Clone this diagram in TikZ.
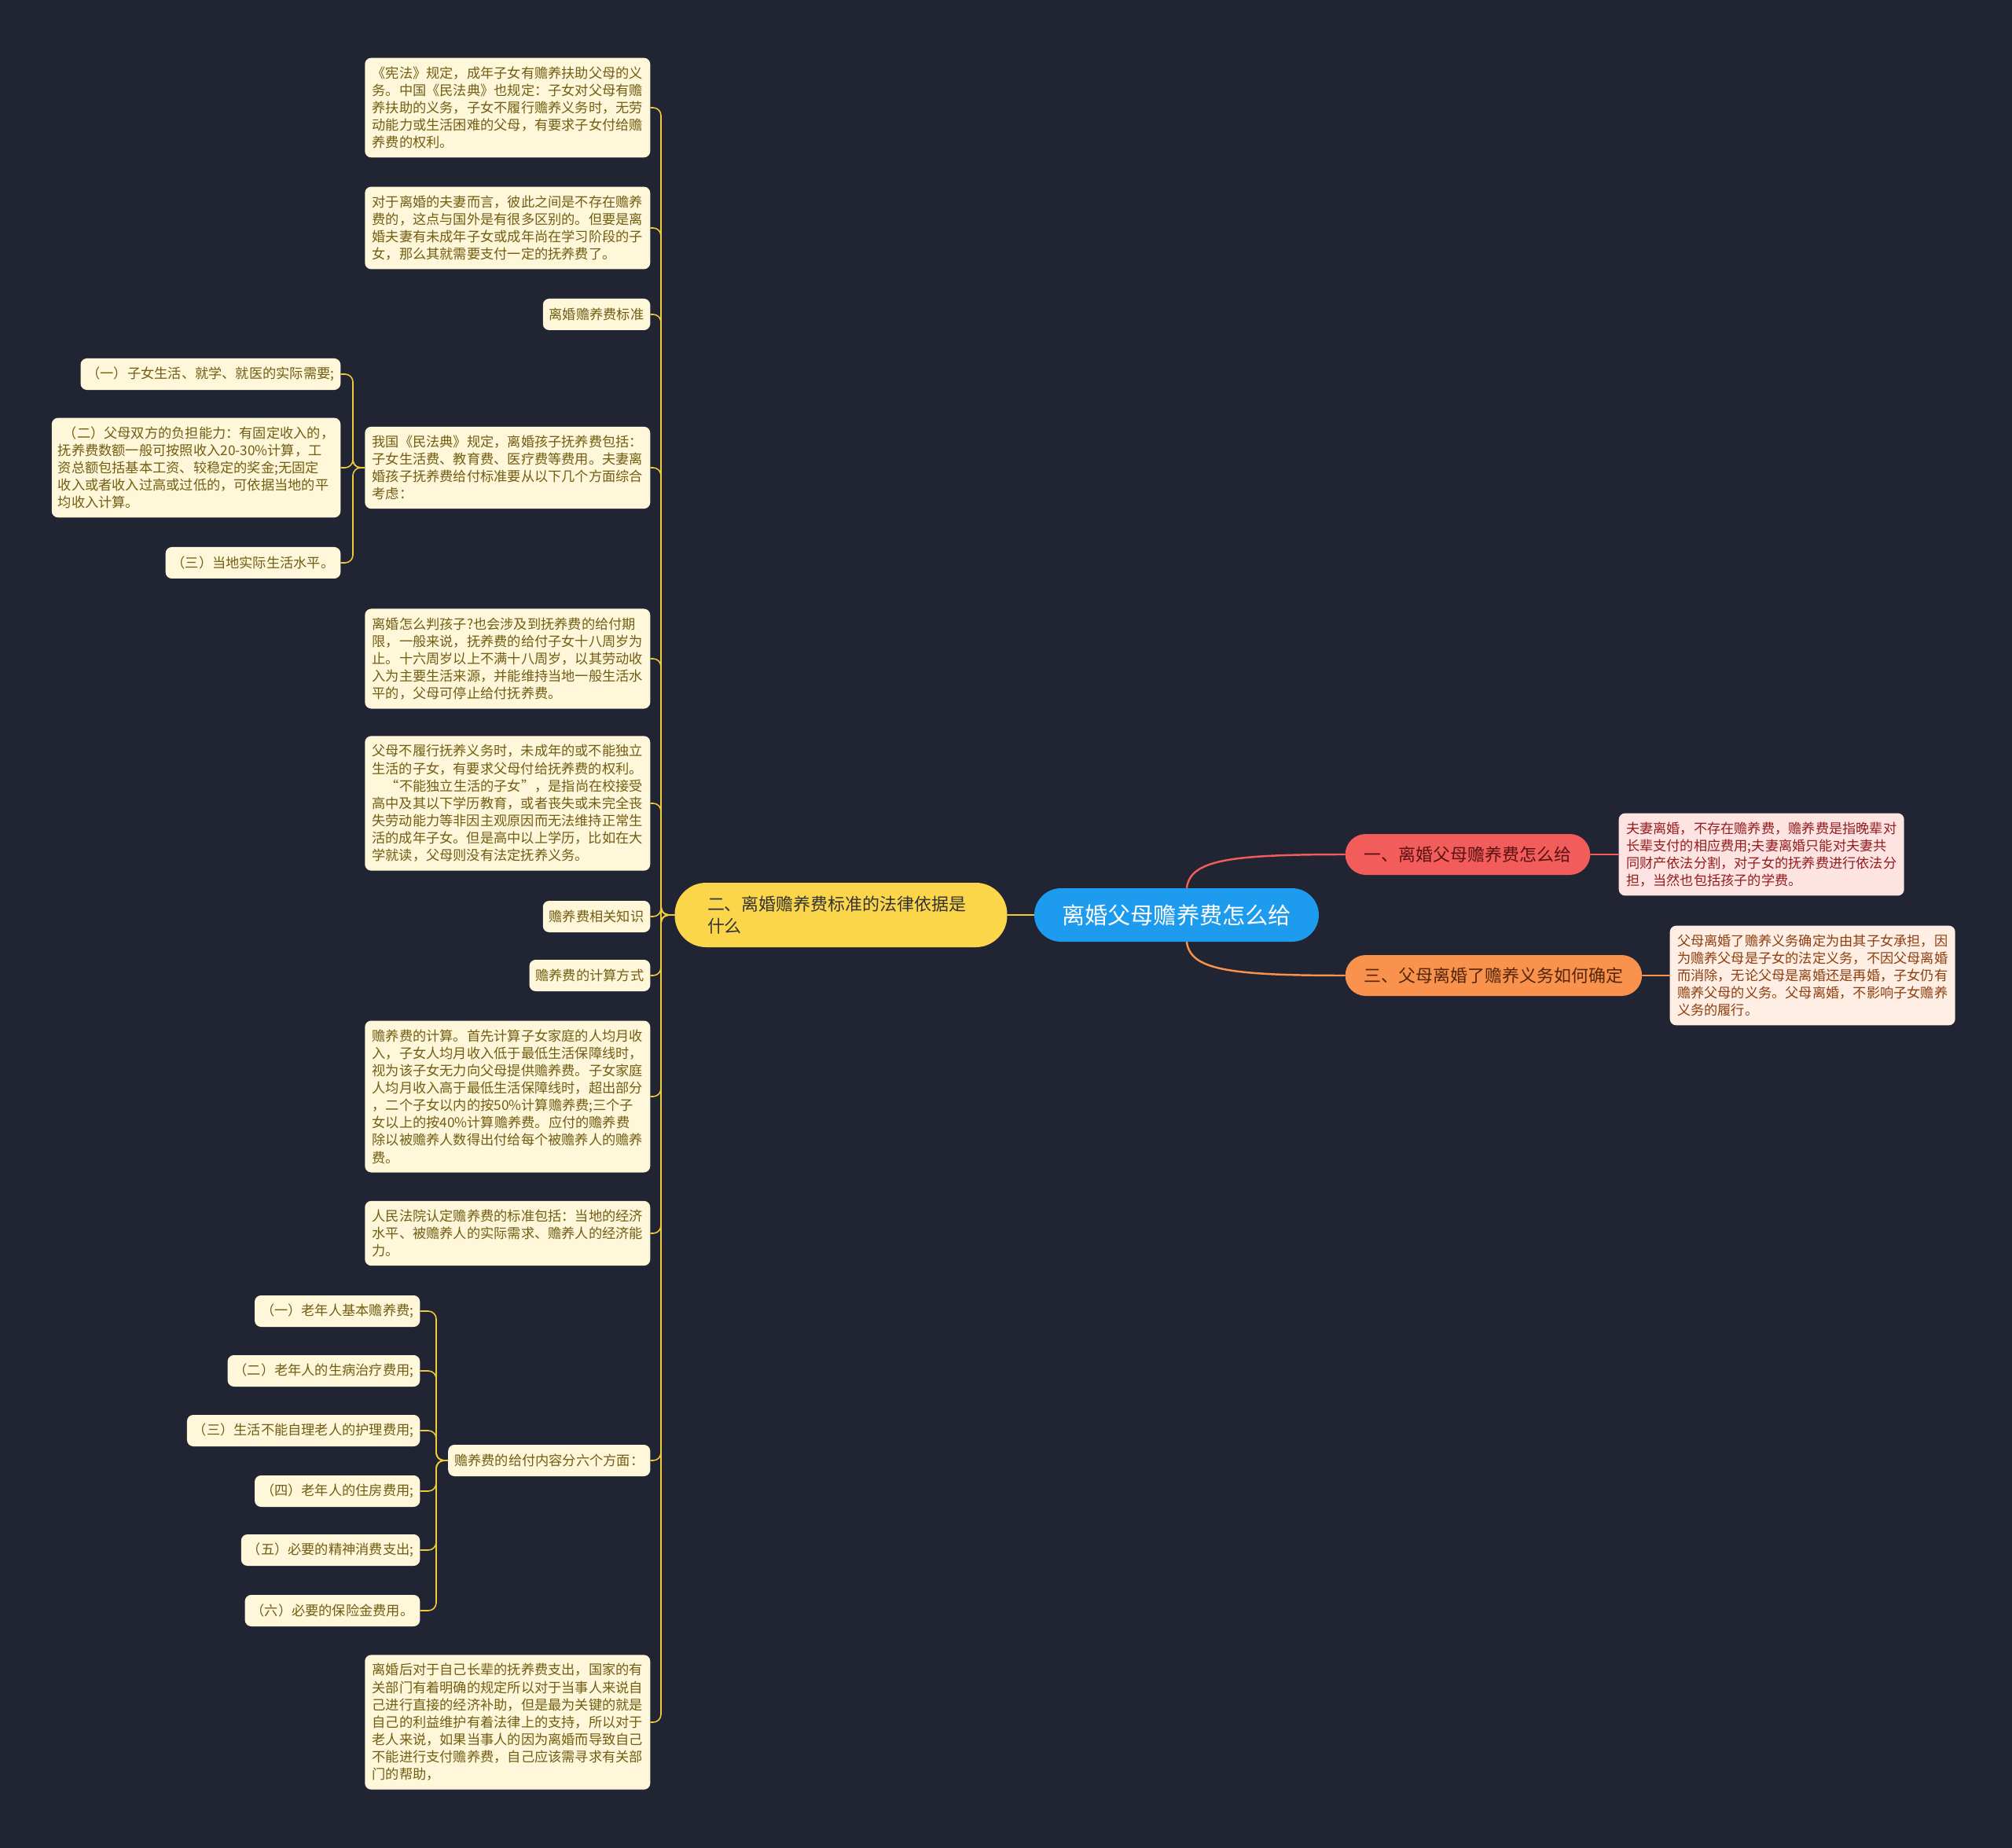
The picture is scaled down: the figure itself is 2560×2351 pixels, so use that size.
\documentclass[tikz,border=0pt]{standalone}
\usepackage{fontspec}
\setmainfont{Noto Sans CJK SC}
\usepackage{tikz}

\definecolor{bgcol}{HTML}{212533}
\definecolor{rootfill}{HTML}{1C9BEF}
\definecolor{redfill}{HTML}{F25D5C}
\definecolor{orangefill}{HTML}{F8924C}
\definecolor{yellowfill}{HTML}{FCD64A}
\definecolor{creamfill}{HTML}{FEF7DA}
\definecolor{creamtext}{HTML}{725D12}
\definecolor{pinkfill}{HTML}{FEE3E3}
\definecolor{pinktext}{HTML}{951D1D}
\definecolor{peachfill}{HTML}{FEEEE3}
\definecolor{peachtext}{HTML}{8E3F10}
\definecolor{yline}{HTML}{EFCB3A}

\begin{document}
\begin{tikzpicture}[
				x=0.1mm, y=-0.1mm,
				line cap=round,
				line join=round,
				leaf/.style={fill=creamfill, text=creamtext, rounded corners=0.8mm,
					inner xsep=0.8mm, inner ysep=1.1mm, align=left, minimum height=4mm,
					font=\fontsize{4.9pt}{6.3pt}\selectfont},
				note/.style={leaf, minimum width=36.3mm},
				topic/.style={fill=rootfill, text=white, rounded corners=3.4mm,
					minimum width=36.2mm, minimum height=6.8mm,
					font=\fontsize{8.3pt}{10pt}\selectfont},
				branch/.style={rounded corners=2.6mm, minimum height=5.2mm, inner xsep=2.4mm,
					font=\fontsize{6.25pt}{7.9pt}\selectfont},
				yconn/.style={draw=yline, line width=0.45pt, rounded corners=1mm}
				]
				% Background
				\fill[bgcol] (0,0) rectangle (2560,2351);
				
				% Central topic
				\node[topic] (root) at (1497,1164) {离婚父母赡养费怎么给};
				
				% Main branches
				\node[branch, fill=redfill, text=pinktext!60!black, anchor=west] (one) at (1711,1087) {一、离婚父母赡养费怎么给};
				\node[branch, fill=orangefill, text=peachtext!60!black, anchor=west] (three) at (1711,1241) {三、父母离婚了赡养义务如何确定};
				\node[branch, fill=yellowfill, text=black!80, rounded corners=4mm, minimum height=8.2mm,
					text width=34mm, inner xsep=4.15mm, align=left] (two) at (1070,1164) {二、离婚赡养费标准的法律依据是\\什么};
				
				% Right notes
				\node[note, fill=pinkfill, text=pinktext, anchor=west] (onenote) at (2059,1087) {夫妻离婚，不存在赡养费，赡养费是指晚辈对\\长辈支付的相应费用;夫妻离婚只能对夫妻共\\同财产依法分割，对子女的抚养费进行依法分\\担，当然也包括孩子的学费。};
				\node[note, fill=peachfill, text=peachtext, anchor=west] (threenote) at (2124,1241) {父母离婚了赡养义务确定为由其子女承担，因\\为赡养父母是子女的法定义务，不因父母离婚\\而消除，无论父母是离婚还是再婚，子女仍有\\赡养父母的义务。父母离婚，不影响子女赡养\\义务的履行。};
				
				% Left notes
				\node[note, anchor=east] (law) at (828,137) {《宪法》规定，成年子女有赡养扶助父母的义\\务。中国《民法典》也规定：子女对父母有赡\\养扶助的义务，子女不履行赡养义务时，无劳\\动能力或生活困难的父母，有要求子女付给赡\\养费的权利。};
				\node[note, anchor=east] (spouse) at (828,290) {对于离婚的夫妻而言，彼此之间是不存在赡养\\费的，这点与国外是有很多区别的。但要是离\\婚夫妻有未成年子女或成年尚在学习阶段的子\\女，那么其就需要支付一定的抚养费了。};
				\node[leaf, anchor=east] (standard) at (828,400) {离婚赡养费标准};
				\node[note, anchor=east] (civil) at (828,595) {我国《民法典》规定，离婚孩子抚养费包括：\\子女生活费、教育费、医疗费等费用。夫妻离\\婚孩子抚养费给付标准要从以下几个方面综合\\考虑：};
				\node[leaf, anchor=east] (civila) at (434,476) {（一）子女生活、就学、就医的实际需要;};
				\node[leaf, anchor=east] (civilb) at (434,595) {\hspace{2pt}（二）父母双方的负担能力：有固定收入的，\\抚养费数额一般可按照收入20-30\%计算，工\\资总额包括基本工资、较稳定的奖金;无固定\\收入或者收入过高或过低的，可依据当地的平\\均收入计算。};
				\node[leaf, anchor=east] (civilc) at (434,716) {（三）当地实际生活水平。};
				\node[note, anchor=east] (age) at (828,838) {离婚怎么判孩子?也会涉及到抚养费的给付期\\限，一般来说，抚养费的给付子女十八周岁为\\止。十六周岁以上不满十八周岁，以其劳动收\\入为主要生活来源，并能维持当地一般生活水\\平的，父母可停止给付抚养费。};
				\node[note, anchor=east] (duty) at (828,1022) {父母不履行抚养义务时，未成年的或不能独立\\生活的子女，有要求父母付给抚养费的权利。\\\hspace{5pt}“不能独立生活的子女”，是指尚在校接受\\高中及其以下学历教育，或者丧失或未完全丧\\失劳动能力等非因主观原因而无法维持正常生\\活的成年子女。但是高中以上学历，比如在大\\学就读，父母则没有法定抚养义务。};
				\node[leaf, anchor=east] (know) at (828,1166) {赡养费相关知识};
				\node[leaf, anchor=east] (way) at (828,1241) {赡养费的计算方式};
				\node[note, anchor=east] (calc) at (828,1395) {赡养费的计算。首先计算子女家庭的人均月收\\入，子女人均月收入低于最低生活保障线时，\\视为该子女无力向父母提供赡养费。子女家庭\\人均月收入高于最低生活保障线时，超出部分\\，二个子女以内的按50\%计算赡养费;三个子\\女以上的按40\%计算赡养费。应付的赡养费\\除以被赡养人数得出付给每个被赡养人的赡养\\费。};
				\node[note, anchor=east] (court) at (828,1569) {人民法院认定赡养费的标准包括：当地的经济\\水平、被赡养人的实际需求、赡养人的经济能\\力。};
				\node[leaf, anchor=east] (six) at (828,1858) {赡养费的给付内容分六个方面：};
				\node[leaf, anchor=east] (sixa) at (535,1668) {（一）老年人基本赡养费;};
				\node[leaf, anchor=east] (sixb) at (535,1744) {（二）老年人的生病治疗费用;};
				\node[leaf, anchor=east] (sixc) at (535,1820) {（三）生活不能自理老人的护理费用;};
				\node[leaf, anchor=east] (sixd) at (535,1897) {（四）老年人的住房费用;};
				\node[leaf, anchor=east] (sixe) at (535,1972) {（五）必要的精神消费支出;};
				\node[leaf, anchor=east] (sixf) at (535,2049) {（六）必要的保险金费用。};
				\node[note, anchor=east] (elder) at (828,2191) {离婚后对于自己长辈的抚养费支出，国家的有\\关部门有着明确的规定所以对于当事人来说自\\己进行直接的经济补助，但是最为关键的就是\\自己的利益维护有着法律上的支持，所以对于\\老人来说，如果当事人的因为离婚而导致自己\\不能进行支付赡养费，自己应该需寻求有关部\\门的帮助，};
				
				% Connectors, right
				\draw[redfill, line width=0.7pt] ([xshift=1.3mm]root.north) .. controls (1515,1095) and (1560,1087) .. (one.west);
				\draw[orangefill, line width=0.7pt] ([xshift=1.3mm]root.south) .. controls (1515,1233) and (1560,1241) .. (three.west);
				\draw[redfill, line width=0.7pt] (one.east) -- (onenote.west);
				\draw[orangefill, line width=0.7pt] (three.east) -- (threenote.west);
				\draw[yline, line width=0.8pt] (root.west) -- (two.east);
				
				% Connectors, left
				\foreach \n in {law,spouse,standard,civil,age,duty,know,way,calc,court,six,elder}
					\draw[yconn] (\n.east) -- ++(13,0) |- (two.west);
				\foreach \n in {civila,civilb,civilc}
					\draw[yconn] (\n.east) -- ++(15,0) |- (civil.west);
				\foreach \n in {sixa,sixb,sixc,sixd,sixe,sixf}
					\draw[yconn] (\n.east) -- ++(20,0) |- (six.west);
			\end{tikzpicture}
\end{document}
